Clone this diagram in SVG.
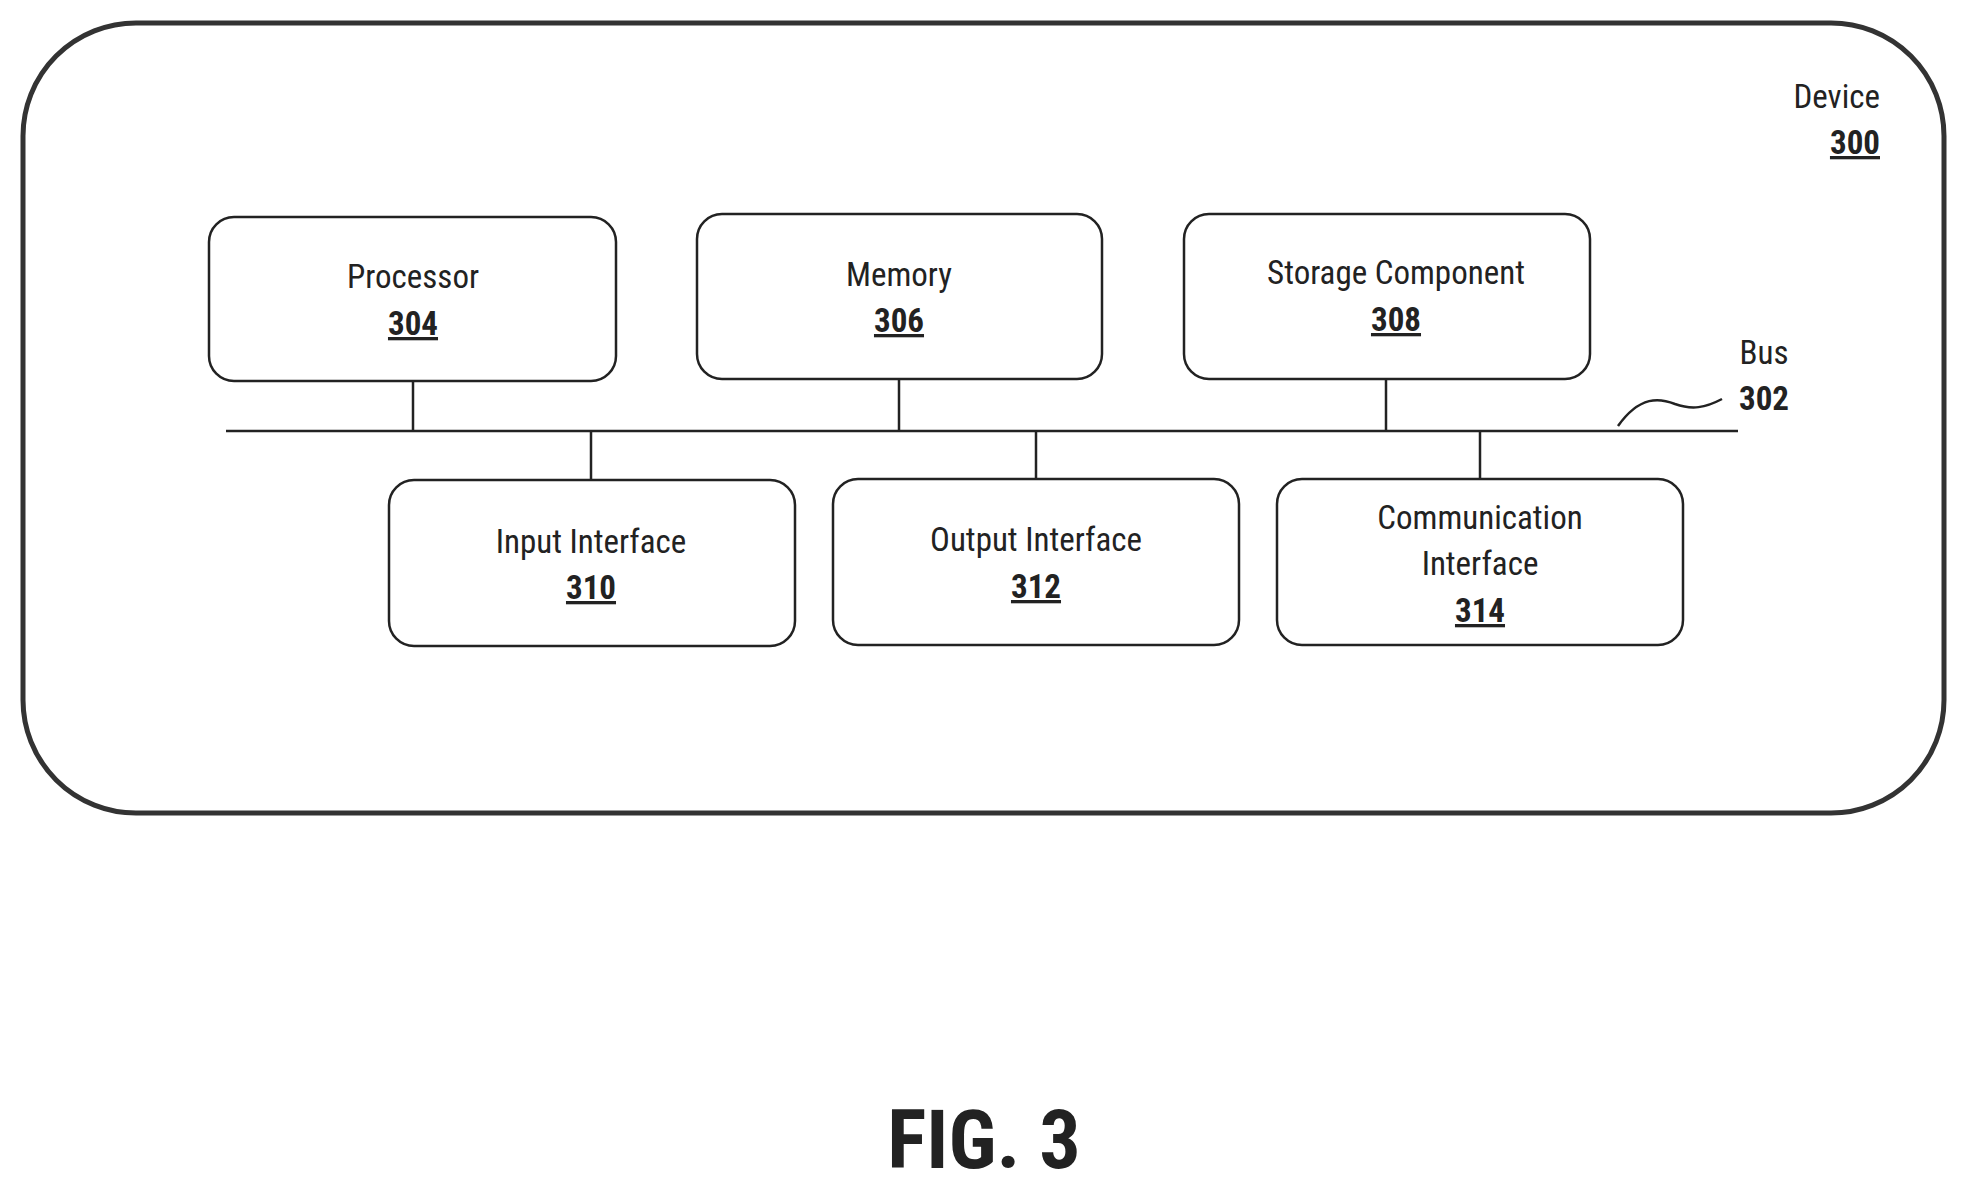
<svg xmlns="http://www.w3.org/2000/svg" width="1966" height="1196" viewBox="0 0 1966 1196">
<style>
.b{fill:#fff;stroke:#222;stroke-width:2.5}
.t{font-family:Roboto,"Liberation Sans",sans-serif;font-size:33px;fill:#222;text-anchor:middle;font-stretch:condensed}
.n{font-weight:bold;text-decoration:underline}
.l{stroke:#222;stroke-width:2.5;fill:none}
</style>
<rect width="1966" height="1196" fill="#fff"/>
<g id="device"><rect x="23" y="23" width="1921" height="790" rx="113" fill="none" stroke="#333" stroke-width="5"/>
<text class="t" x="1880" y="108" text-anchor="end" style="text-anchor:end">Device</text>
<text class="t n" x="1880" y="154" style="text-anchor:end">300</text></g>
<g id="connectors">
<line class="l" x1="226" y1="431" x2="1738" y2="431"/>
<line class="l" x1="413" y1="381" x2="413" y2="431"/>
<line class="l" x1="899" y1="379" x2="899" y2="431"/>
<line class="l" x1="1386" y1="379" x2="1386" y2="431"/>
<line class="l" x1="591" y1="431" x2="591" y2="480"/>
<line class="l" x1="1036" y1="431" x2="1036" y2="479"/>
<line class="l" x1="1480" y1="431" x2="1480" y2="479"/>
<path class="l" d="M1618,426 C1640,395 1660,398 1675,404 C1692,410 1705,408 1722,399"/>
</g>
<g id="bus"><text class="t" x="1764" y="364">Bus</text><text class="t" font-weight="bold" x="1764" y="410">302</text></g>
<g id="processor"><rect class="b" x="209" y="217" width="407" height="164" rx="25"/><text class="t" x="413" y="288">Processor</text><text class="t n" x="413" y="335">304</text></g>
<g id="memory"><rect class="b" x="697" y="214" width="405" height="165" rx="25"/><text class="t" x="899" y="286">Memory</text><text class="t n" x="899" y="332">306</text></g>
<g id="storage"><rect class="b" x="1184" y="214" width="406" height="165" rx="25"/><text class="t" x="1396" y="284">Storage Component</text><text class="t n" x="1396" y="331">308</text></g>
<g id="input"><rect class="b" x="389" y="480" width="406" height="166" rx="25"/><text class="t" x="591" y="553">Input Interface</text><text class="t n" x="591" y="599">310</text></g>
<g id="output"><rect class="b" x="833" y="479" width="406" height="166" rx="25"/><text class="t" x="1036" y="551">Output Interface</text><text class="t n" x="1036" y="598">312</text></g>
<g id="comm"><rect class="b" x="1277" y="479" width="406" height="166" rx="25"/><text class="t" x="1480" y="529">Communication</text><text class="t" x="1480" y="575">Interface</text><text class="t n" x="1480" y="622">314</text></g>
<text x="984" y="1168" style="font-family:Roboto,'Liberation Sans',sans-serif;font-size:82px;font-weight:bold;fill:#222;text-anchor:middle;font-stretch:condensed">FIG. 3</text>
</svg>
